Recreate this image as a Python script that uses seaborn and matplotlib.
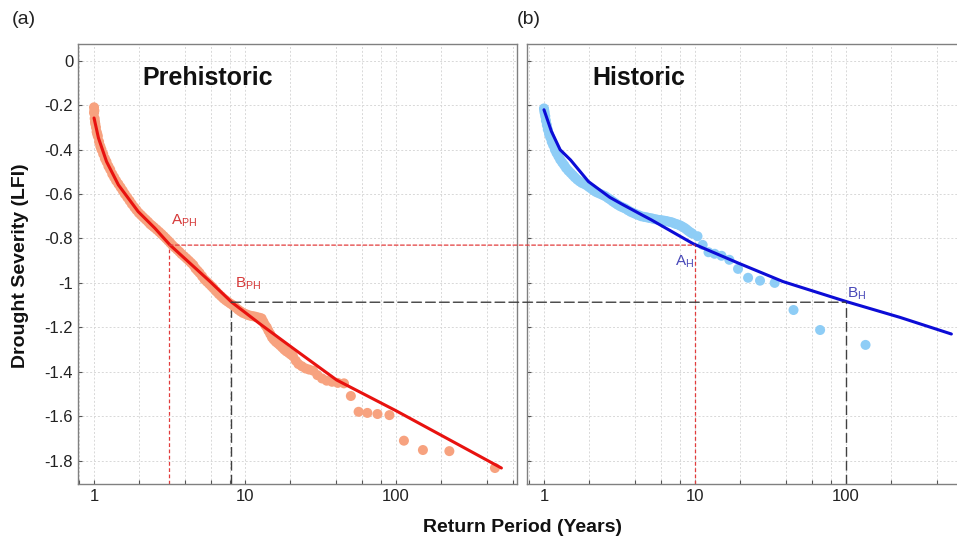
import pandas as pd
import seaborn as sns
import matplotlib.pyplot as plt
from matplotlib.ticker import FixedLocator, LogLocator, NullFormatter, FuncFormatter
from matplotlib.patches import ConnectionPatch

# Prehistoric record: empirical return period (years) vs drought severity (LFI)
pre_T = [1.00, 1.00, 1.005, 1.01, 1.015, 1.02, 1.03, 1.04, 1.05, 1.06, 1.08, 1.10,
         1.12, 1.15, 1.18, 1.21, 1.245, 1.28, 1.32, 1.36, 1.40, 1.45, 1.50, 1.55,
         1.60, 1.66, 1.72, 1.78, 1.85, 1.91, 1.98, 2.05, 2.12, 2.2, 2.28, 2.35,
         2.42, 2.5, 2.6, 2.7, 2.8, 2.9, 3.0, 3.1, 3.2, 3.3, 3.42, 3.55, 3.68, 3.8,
         3.95, 4.1, 4.25, 4.4, 4.55, 4.7, 4.85, 5.0, 5.2, 5.4, 5.6, 5.8, 6.0, 6.2,
         6.45, 6.7, 6.95, 7.2, 7.45, 7.7, 8.0, 8.3, 8.65, 9.0, 9.35, 9.7, 10.1,
         10.5, 10.9, 11.3, 11.7, 12.1, 12.5, 12.9, 13.25, 13.6, 13.95, 14.3, 14.7,
         15.1, 15.5, 16.0, 16.5, 17.0, 17.6, 18.2, 18.8, 19.5, 20.1, 20.8, 21.7,
         22.6, 23.8, 25.2, 26.6, 28.3, 30.2, 32.4, 34.8, 37.75, 41.2, 45.3, 50.3,
         56.6, 64.7, 75.5, 90.6, 113, 151, 226, 453]
pre_lfi = [-0.21, -0.235, -0.225, -0.26, -0.275, -0.285, -0.30, -0.32, -0.33, -0.34,
           -0.365, -0.385, -0.40, -0.42, -0.44, -0.455, -0.475, -0.49, -0.51, -0.525,
           -0.54, -0.555, -0.57, -0.585, -0.60, -0.615, -0.63, -0.645, -0.66, -0.672,
           -0.685, -0.695, -0.705, -0.715, -0.725, -0.735, -0.742, -0.75, -0.76,
           -0.77, -0.78, -0.79, -0.80, -0.81, -0.82, -0.83, -0.84, -0.85, -0.86,
           -0.87, -0.88, -0.89, -0.90, -0.91, -0.92, -0.935, -0.945, -0.955, -0.97,
           -0.985, -0.995, -1.005, -1.015, -1.025, -1.038, -1.05, -1.06, -1.07,
           -1.078, -1.085, -1.093, -1.10, -1.11, -1.12, -1.128, -1.135, -1.14,
           -1.145, -1.148, -1.15, -1.152, -1.155, -1.157, -1.16, -1.175, -1.19,
           -1.20, -1.215, -1.23, -1.245, -1.255, -1.265, -1.272, -1.28, -1.29, -1.30,
           -1.308, -1.315, -1.322, -1.33, -1.35, -1.365, -1.375, -1.385, -1.39,
           -1.395, -1.415, -1.43, -1.44, -1.445, -1.45, -1.452, -1.509, -1.58,
           -1.585, -1.59, -1.595, -1.71, -1.752, -1.757, -1.833]
pre_fit_T = [1, 1.07, 1.21, 1.45, 1.96, 2.53, 3.18, 5.87, 8.17, 12.6, 20.8, 40.5,
             100, 228, 500]
pre_fit_lfi = [-0.258, -0.348, -0.454, -0.559, -0.679, -0.754, -0.829, -0.994,
               -1.087, -1.185, -1.294, -1.437, -1.575, -1.707, -1.833]

# Historic record
his_T = [1.0, 1.005, 1.01, 1.02, 1.03, 1.045, 1.06, 1.08, 1.1, 1.125, 1.15, 1.18,
         1.21, 1.245, 1.28, 1.32, 1.36, 1.40, 1.45, 1.50, 1.55, 1.60, 1.66, 1.72,
         1.78, 1.85, 1.91, 1.98, 2.05, 2.12, 2.2, 2.28, 2.37, 2.46, 2.55, 2.65,
         2.75, 2.85, 2.95, 3.07, 3.2, 3.32, 3.45, 3.6, 3.75, 3.9, 4.05, 4.22, 4.4,
         4.6, 4.8, 5.0, 5.2, 5.4, 5.6, 5.8, 6.0, 6.25, 6.5, 6.75, 7.0, 7.25, 7.5,
         7.75, 8.0, 8.25, 8.5, 8.75, 9.0, 9.3, 9.6, 10.4, 11.25, 12.3, 13.5, 15,
         16.9, 19.3, 22.5, 27, 33.75, 45, 67.5, 135]
his_lfi = [-0.215, -0.225, -0.235, -0.25, -0.27, -0.29, -0.31, -0.33, -0.345, -0.365,
           -0.38, -0.40, -0.415, -0.43, -0.445, -0.458, -0.47, -0.483, -0.495, -0.505,
           -0.515, -0.525, -0.535, -0.543, -0.55, -0.555, -0.56, -0.568, -0.575,
           -0.583, -0.59, -0.595, -0.60, -0.605, -0.61, -0.618, -0.625, -0.633, -0.64,
           -0.648, -0.655, -0.66, -0.665, -0.673, -0.68, -0.685, -0.69, -0.695, -0.70,
           -0.703, -0.705, -0.708, -0.71, -0.713, -0.715, -0.717, -0.718, -0.72,
           -0.722, -0.725, -0.727, -0.731, -0.735, -0.738, -0.742, -0.747, -0.752,
           -0.758, -0.765, -0.772, -0.778, -0.79, -0.829, -0.862, -0.869, -0.878,
           -0.896, -0.937, -0.977, -0.99, -1.0, -1.122, -1.212, -1.279]
his_fit_T = [1.0, 1.12, 1.28, 1.5, 1.97, 2.73, 3.27, 4.54, 5.16, 9.75, 19.4, 38.3,
             100.6, 228, 500]
his_fit_lfi = [-0.221, -0.318, -0.401, -0.447, -0.544, -0.615, -0.645, -0.697, -0.717,
               -0.824, -0.911, -0.994, -1.084, -1.155, -1.23]

# design levels
level_a = -0.83
level_b = -1.087
a_ph_T, b_ph_T = 3.15, 8.1
a_h_T, b_h_T = 10, 100

y_bottom, y_top = -1.905, 0.075
red_pts, red_line = '#f7a27f', '#e8120f'
blue_pts, blue_line = '#8ecdf6', '#0c0cd6'
ref_red, ref_black = '#e23c3c', '#404040'

sns.set_theme(style='white')
plt.rcParams['font.family'] = ['Liberation Sans', 'DejaVu Sans']
plt.rcParams['axes.unicode_minus'] = False

fig = plt.figure(figsize=(9.57, 5.39), dpi=100)
ax1 = fig.add_axes([0.0815, 0.102, 0.4587, 0.8164])
ax2 = fig.add_axes([0.5507, 0.102, 0.4587, 0.8164], sharey=ax1)

pre = pd.DataFrame({'T': pre_T, 'LFI': pre_lfi})
his = pd.DataFrame({'T': his_T, 'LFI': his_lfi})

for ax, df, fT, fy, pc, lc, xlim in [
        (ax1, pre, pre_fit_T, pre_fit_lfi, red_pts, red_line, (0.783, 634)),
        (ax2, his, his_fit_T, his_fit_lfi, blue_pts, blue_line, (0.772, 625))]:
    ax.set_xscale('log')
    sns.scatterplot(x='T', y='LFI', data=df, ax=ax, color=pc, s=52, edgecolor='none',
                    zorder=3)
    sns.lineplot(x=fT, y=fy, ax=ax, color=lc, lw=2.2, estimator=None, zorder=4)
    ax.set_xlim(*xlim)
    ax.set_ylim(y_bottom, y_top)
    ax.xaxis.set_major_locator(FixedLocator([1, 10, 100]))
    ax.xaxis.set_major_formatter(FuncFormatter(lambda v, p: f'{v:g}'))
    ax.xaxis.set_minor_locator(LogLocator(base=10, subs=(2, 4, 6, 8)))
    ax.xaxis.set_minor_formatter(NullFormatter())
    ax.set_yticks([-1.8, -1.6, -1.4, -1.2, -1.0, -0.8, -0.6, -0.4, -0.2, 0])
    ax.grid(True, which='both', axis='x', color='#d8d8d8', lw=0.7, ls=(0, (2, 2)))
    ax.grid(True, which='major', axis='y', color='#d8d8d8', lw=0.7, ls=(0, (2, 2)))
    ax.tick_params(which='both', direction='in', length=3, width=0.8, color='#555555',
                   labelsize=12, labelcolor='#222222', bottom=True, left=True)
    for sp in ax.spines.values():
        sp.set_color('#808080')
        sp.set_linewidth(1.0)
    ax.set_xlabel('')
    ax.set_ylabel('')

ax1.yaxis.set_major_formatter(FuncFormatter(lambda v, p: f'{round(v, 1) + 0:g}'))
ax2.tick_params(labelleft=False)

# reference lines
ax1.vlines(a_ph_T, y_bottom, level_a, color=ref_red, lw=0.9, ls=(0, (3, 2)), zorder=2)
ax2.vlines(a_h_T, y_bottom, level_a, color=ref_red, lw=0.9, ls=(0, (3, 2)), zorder=2)
ax1.vlines(b_ph_T, y_bottom, level_b, color=ref_black, lw=1.0, ls=(0, (7, 3)), zorder=2)
ax2.vlines(b_h_T, y_bottom, level_b, color=ref_black, lw=1.0, ls=(0, (7, 3)), zorder=2)
con_a = ConnectionPatch(xyA=(a_ph_T, level_a), coordsA=ax1.transData,
                        xyB=(a_h_T, level_a), coordsB=ax2.transData,
                        color=ref_red, lw=0.9, ls=(0, (3, 2)), zorder=2)
con_b = ConnectionPatch(xyA=(b_ph_T, level_b), coordsA=ax1.transData,
                        xyB=(b_h_T, level_b), coordsB=ax2.transData,
                        color=ref_black, lw=1.0, ls=(0, (7, 3)), zorder=2)
fig.add_artist(con_a)
fig.add_artist(con_b)

# point labels
ax1.text(3.25, -0.735, 'A$_\\mathregular{PH}$', color='#d63a3a', fontsize=11)
ax1.text(8.6, -1.022, 'B$_\\mathregular{PH}$', color='#d63a3a', fontsize=11)
ax2.text(7.35, -0.919, 'A$_\\mathregular{H}$', color='#4848b8', fontsize=11)
ax2.text(101, -1.063, 'B$_\\mathregular{H}$', color='#4848b8', fontsize=11)

ax1.text(0.146, 0.923, 'Prehistoric', transform=ax1.transAxes, fontsize=18,
         fontweight='bold', va='center', color='#111111')
ax2.text(0.150, 0.923, 'Historic', transform=ax2.transAxes, fontsize=18,
         fontweight='bold', va='center', color='#111111')

fig.text(0.0125, 0.963, '(a)', fontsize=14, va='center', color='#222222')
fig.text(0.540, 0.963, '(b)', fontsize=14, va='center', color='#222222')
fig.text(0.021, 0.508, 'Drought Severity (LFI)', rotation=90, fontsize=14,
         fontweight='bold', ha='center', va='center', color='#111111')
fig.text(0.546, 0.022, 'Return Period (Years)', fontsize=14, fontweight='bold',
         ha='center', va='center', color='#111111')

fig.savefig('out.png', dpi=100)
